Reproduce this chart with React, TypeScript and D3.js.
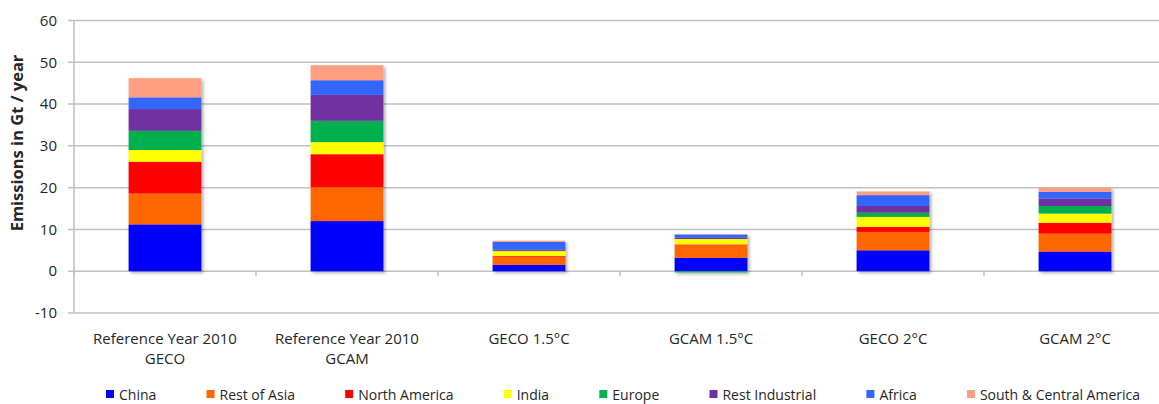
import React from "react";
import * as d3 from "d3";

// Emissions by region (Gt / year) for each scenario
const categories = [
  "Reference Year 2010\nGECO",
  "Reference Year 2010\nGCAM",
  "GECO 1.5°C",
  "GCAM 1.5°C",
  "GECO 2°C",
  "GCAM 2°C",
];
const regions = [
  "China",
  "Rest of Asia",
  "North America",
  "India",
  "Europe",
  "Rest Industrial",
  "Africa",
  "South & Central America",
];
const china = [11.2, 12.0, 1.5, 3.2, 5.0, 4.7];
const restOfAsia = [7.4, 8.1, 1.9, 3.0, 4.4, 4.3];
const northAmerica = [7.6, 7.9, 0.2, 0.2, 1.2, 2.6];
const india = [2.8, 2.9, 1.2, 1.3, 2.4, 2.2];
const europe = [4.6, 5.1, 0.1, -0.3, 1.0, 1.8];
const restIndustrial = [5.2, 6.2, 0.3, 0.3, 1.6, 1.8];
const africa = [2.8, 3.5, 1.8, 0.8, 2.6, 1.6];
const southCentralAmerica = [4.6, 3.6, 0.3, 0.1, 0.9, 1.0];
const yTicks = [-10, 0, 10, 20, 30, 40, 50, 60];

const seriesValues = [
  china,
  restOfAsia,
  northAmerica,
  india,
  europe,
  restIndustrial,
  africa,
  southCentralAmerica,
];
const colors = [
  "#0000FF",
  "#FF6600",
  "#FF0000",
  "#FFFF00",
  "#00B050",
  "#7030A0",
  "#3366FF",
  "#FF9E80",
];

const W = 1159;
const H = 404;
const FONT = "'Open Sans', 'Noto Sans', sans-serif";
const TEXT = "#262626";

const rows = categories.map((c, i) => {
  const r: Record<string, any> = { category: c };
  regions.forEach((reg, k) => (r[reg] = seriesValues[k][i]));
  return r;
});

const stacked = d3
  .stack<Record<string, any>>()
  .keys(regions)
  .offset(d3.stackOffsetDiverging)(rows);

const plotLeft = 74;
const bandW = 182;
const x = d3
  .scaleBand<string>()
  .domain(categories)
  .range([plotLeft, plotLeft + bandW * categories.length])
  .paddingInner(0)
  .paddingOuter(0);
const barW = bandW * 0.4;

const y = d3.scaleLinear().domain([-10, 60]).range([313, 20.5]);

function measure(text: string, font: string) {
  const c = document.createElement("canvas").getContext("2d")!;
  c.font = font;
  return c.measureText(text).width;
}

export default function App() {
  // Legend: spread entries between a fixed start and end
  const legendFont = `14px ${FONT}`;
  const swatch = 8;
  const swatchGap = 5;
  const widths = regions.map((r) => swatch + swatchGap + measure(r, legendFont));
  const legStart = 106;
  const legEnd = 1140;
  const total = widths.reduce((a, b) => a + b, 0);
  const gap = (legEnd - legStart - total) / (regions.length - 1);
  const legX: number[] = [];
  let cx = legStart;
  widths.forEach((w) => {
    legX.push(cx);
    cx += w + gap;
  });

  return (
    <svg
      width={W}
      height={H}
      style={{ position: "absolute", left: 0, top: 0, background: "#fff" }}
      fontFamily={FONT}
    >
      <defs>
        <filter id="barShadow" x="-20%" y="-20%" width="140%" height="140%">
          <feDropShadow dx="2" dy="2" stdDeviation="1.5" floodColor="#000" floodOpacity="0.3" />
        </filter>
      </defs>
      <rect x={0} y={0} width={W} height={H} fill="#fff" />

      {/* horizontal gridlines + value labels */}
      {yTicks.map((t) => (
        <g key={t}>
          <line
            x1={plotLeft - 6}
            x2={W}
            y1={y(t)}
            y2={y(t)}
            stroke="#c0c0c0"
            strokeWidth={1.5}
          />
          <text
            x={57}
            y={y(t)}
            dy="0.35em"
            textAnchor="end"
            fontSize={15}
            fill={TEXT}
          >
            {t}
          </text>
        </g>
      ))}

      {/* value axis line */}
      <line
        x1={plotLeft}
        x2={plotLeft}
        y1={y(60)}
        y2={y(-10)}
        stroke="#c0c0c0"
        strokeWidth={1.5}
      />

      {/* category tick marks on the zero line */}
      {categories.map((c) => (
        <line
          key={c}
          x1={x(c)!}
          x2={x(c)!}
          y1={y(0)}
          y2={y(0) + 5}
          stroke="#c0c0c0"
          strokeWidth={1.5}
        />
      ))}

      {/* stacked bars */}
      <g filter="url(#barShadow)">
        {stacked.map((s, k) => (
          <g key={s.key} fill={colors[k]}>
            {s.map((d, i) => {
              const top = y(Math.max(d[0], d[1]));
              const bot = y(Math.min(d[0], d[1]));
              return (
                <rect
                  key={i}
                  x={x(categories[i])! + (bandW - barW) / 2}
                  y={top}
                  width={barW}
                  height={Math.max(0, bot - top)}
                />
              );
            })}
          </g>
        ))}
      </g>

      {/* category labels */}
      {categories.map((c) => {
        const lines = c.split("\n");
        const cxp = x(c)! + bandW / 2;
        return (
          <text key={c} textAnchor="middle" fontSize={15} fill={TEXT}>
            {lines.map((ln, j) => (
              <tspan key={j} x={cxp} y={344 + j * 20}>
                {ln}
              </tspan>
            ))}
          </text>
        );
      })}

      {/* value axis title */}
      <text
        transform={`translate(23, 143) rotate(-90)`}
        textAnchor="middle"
        fontSize={16.5}
        fontWeight="bold"
        fill={TEXT}
      >
        Emissions in Gt / year
      </text>

      {/* legend */}
      {regions.map((r, k) => (
        <g key={r} transform={`translate(${legX[k]}, 395)`}>
          <rect x={0} y={-swatch / 2 - 1} width={swatch} height={swatch} fill={colors[k]} />
          <text x={swatch + swatchGap} y={0} dy="0.35em" fontSize={14} fill={TEXT}>
            {r}
          </text>
        </g>
      ))}
    </svg>
  );
}
